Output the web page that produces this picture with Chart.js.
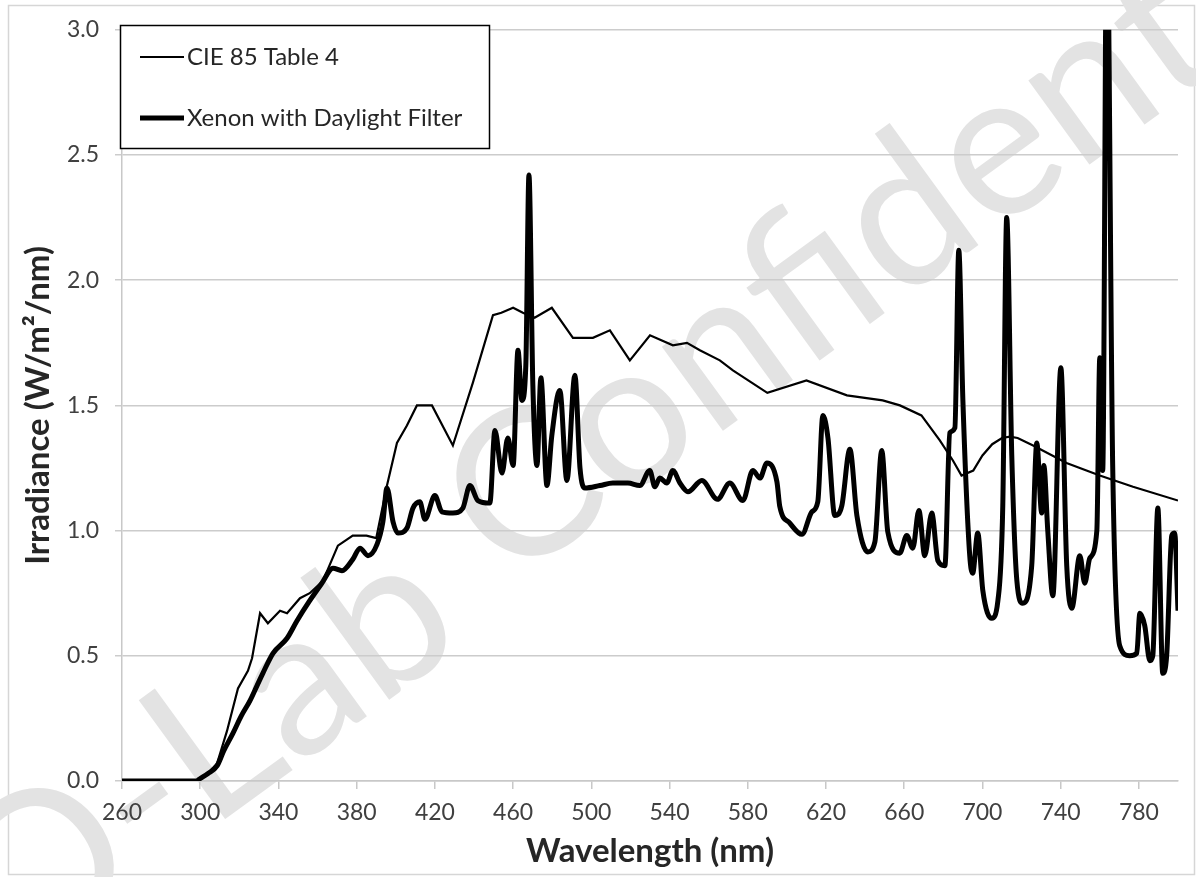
<!DOCTYPE html>
<html>
<head>
<meta charset="utf-8">
<title>Irradiance spectrum</title>
<script src="https://cdn.jsdelivr.net/npm/chart.js@4.4.1/dist/chart.umd.min.js"></script>
<style>
  html, body { margin: 0; padding: 0; background: #fff; }
  #wrap { position: relative; width: 1196px; height: 877px; }
</style>
</head>
<body>
<div id="wrap"><canvas id="myChart" width="1196" height="877"></canvas></div>
<script>
// values
var cieNm = [260, 280, 295, 300, 305, 308.6, 313.7, 319.3, 324.4, 326.5, 330.6, 334.6, 340.8, 344.4,
  351, 356, 362.8, 370.4, 378, 385, 390, 395.5, 400.6, 405.7, 410.8, 418.5, 429.2, 439.4, 449.7,
  454, 460, 465, 471, 479.8, 490.6, 500.8, 509.5, 519.7, 530, 541.7, 548.9, 555.5, 565.7, 572.4,
  590, 610, 630.7, 649, 657.8, 668.8, 678.2, 684.9, 689.3, 695.3, 700, 705, 710, 714, 718, 725.9,
  743, 760, 777, 800];
var cieVal = [0, 0, 0, 0.005, 0.04, 0.07, 0.2, 0.37, 0.44, 0.49, 0.67, 0.63, 0.68, 0.67,
  0.73, 0.75, 0.80, 0.94, 0.98, 0.98, 0.97, 1.18, 1.35, 1.42, 1.50, 1.50, 1.34, 1.59, 1.86,
  1.87, 1.89, 1.87, 1.85, 1.89, 1.77, 1.77, 1.80, 1.68, 1.78, 1.74, 1.75, 1.72, 1.68, 1.64,
  1.55, 1.60, 1.54, 1.52, 1.50, 1.46, 1.36, 1.28, 1.22, 1.24, 1.30, 1.345, 1.37, 1.375, 1.37, 1.34,
  1.27, 1.22, 1.175, 1.12];

var xenonNm = [260, 298, 300, 304, 308.6, 312, 316.7, 321, 325.4, 329, 332, 337.2, 344.4, 349.5,
  356, 362.2, 367.9, 372.5, 378, 381.7, 385.8, 390.4, 393.4, 395.5, 398.6, 401.1, 405.7, 408.8,
  412.3, 414.9, 420, 423.6, 429.2, 434.3, 437.9, 442, 448.1, 450.7, 454.3, 457.3, 460, 462.5,
  464.5, 466.5, 468.1, 470.1, 472.2, 474.2, 477.3, 479.8, 483.9, 487.5, 491.6, 494.2, 496.7,
  504.4, 511, 518.7, 524.8, 529.9, 532.5, 535, 538.6, 541.7, 545.3, 549.4, 556.5, 564.5, 570.8,
  577.5, 582.6, 586.2, 589.8, 594.9, 596.4, 601.5, 607.7, 612.8, 615.8, 618.4, 621, 624.5, 628.1,
  632.2, 635.8, 641.4, 645, 648.5, 651.6, 657.7, 661.3, 664.4, 667.5, 670.5, 674.1, 677.2, 680.8,
  683.3, 685.9, 687.9, 690, 693.5, 695, 697.6, 700.2, 704.8, 707.9, 710.4, 712.4, 715, 717.6,
  720.6, 725.2, 727.8, 730.3, 731.4, 733.4, 736, 740.1, 743.1, 745.7, 749.8, 752.3, 754.9, 758.5,
  760, 761.5, 763.6, 766.6, 770.2, 775.3, 778.9, 780.5, 783, 785.6, 787.1, 789.7, 792.2, 794.2,
  796.8, 798.3, 800];
var xenonVal = [0, 0, 0.01, 0.03, 0.06, 0.12, 0.19, 0.26, 0.32, 0.38, 0.43, 0.51, 0.57, 0.64,
  0.72, 0.79, 0.85, 0.84, 0.885, 0.93, 0.90, 0.945, 1.035, 1.17, 1.035, 0.99, 1.01, 1.09,
  1.115, 1.045, 1.14, 1.075, 1.07, 1.09, 1.18, 1.12, 1.11, 1.40, 1.23, 1.37, 1.26, 1.72,
  1.52, 1.66, 2.42, 1.58, 1.26, 1.61, 1.18, 1.38, 1.56, 1.20, 1.62, 1.25, 1.17,
  1.18, 1.19, 1.19, 1.18, 1.24, 1.175, 1.21, 1.19, 1.24, 1.19, 1.155, 1.20, 1.125, 1.19,
  1.12, 1.24, 1.21, 1.27, 1.195, 1.095, 1.03, 0.985, 1.075, 1.115, 1.46, 1.37, 1.06, 1.10,
  1.325, 1.06, 0.915, 0.955, 1.32, 0.995, 0.91, 0.98, 0.93, 1.08, 0.90, 1.07, 0.88, 0.86,
  1.39, 1.41, 2.12, 1.52, 0.90, 0.83, 0.99, 0.76, 0.65, 0.72, 1.10, 2.25, 1.30, 0.80,
  0.71, 0.86, 1.35, 1.07, 1.26, 1.00, 0.74, 1.65, 0.86, 0.69, 0.90, 0.79, 0.89, 1.00,
  1.69, 1.24, 3.5, 1.26, 0.54, 0.50, 0.51, 0.67, 0.62, 0.48, 0.50, 1.09, 0.43, 0.50,
  0.98, 0.99, 0.68];

var xTicks = [260, 300, 340, 380, 420, 460, 500, 540, 580, 620, 660, 700, 740, 780];
var seriesNames = ["CIE 85 Table 4", "Xenon with Daylight Filter"];
var xTitle = "Wavelength (nm)";
var yTitle = "Irradiance (W/m\u00B2/nm)";
var watermarkWords = ["Q-Lab", "Confidential"];

function pairs(xs, ys) {
  return xs.map(function (x, i) { return { x: x, y: ys[i] }; });
}

var tickFont = { family: "Lato", size: 23 };
var titleFont = { family: "Lato", size: 33, weight: "bold" };

// watermark, frame and the boxed legend
var decorations = {
  id: "decorations",
  beforeDraw: function (chart) {
    var ctx = chart.ctx;
    var em = 205;
    var ang = -36 * Math.PI / 180;
    ctx.save();
    ctx.fillStyle = "#ffffff";
    ctx.fillRect(0, 0, chart.width, chart.height);
    ctx.strokeStyle = "#d6d6d6";
    ctx.lineWidth = 1.5;
    ctx.strokeRect(8.5, 5.5, 1186, 869);

    ctx.font = em + "px Lato";
    ctx.fillStyle = "#e3e3e3";
    ctx.textBaseline = "alphabetic";
    ctx.textAlign = "left";
    // first word: the "L" starts near the lower left
    ctx.save();
    ctx.translate(210, 830);
    ctx.rotate(ang);
    ctx.fillText(watermarkWords[0], -ctx.measureText("Q-").width, 0);
    ctx.restore();
    // second word: the "C" is centred in the middle of the plot
    ctx.save();
    ctx.translate(520, 487);
    ctx.rotate(ang);
    ctx.fillText(watermarkWords[1], -ctx.measureText("C").width / 2, 0.36 * em);
    ctx.restore();
    ctx.restore();
  },
  afterDraw: function (chart) {
    var ctx = chart.ctx;
    ctx.save();
    ctx.fillStyle = "#ffffff";
    ctx.fillRect(121, 26, 368, 122);
    ctx.strokeStyle = "#000000";
    ctx.lineWidth = 1.5;
    ctx.strokeRect(120.5, 25.5, 369, 123);
    var rows = [57, 118];
    ctx.font = "24px Lato";
    ctx.textBaseline = "middle";
    ctx.textAlign = "left";
    chart.data.datasets.forEach(function (ds, i) {
      ctx.strokeStyle = "#000000";
      ctx.lineWidth = ds.borderWidth;
      ctx.lineCap = "butt";
      ctx.beginPath();
      ctx.moveTo(140, rows[i]);
      ctx.lineTo(184, rows[i]);
      ctx.stroke();
      ctx.fillStyle = "#262626";
      ctx.fillText(ds.label, 187, rows[i]);
    });
    ctx.restore();
  }
};

var ctx = document.getElementById("myChart");
var chart = new Chart(ctx, {
  type: "line",
  data: {
    datasets: [
      {
        label: seriesNames[0],
        data: pairs(cieNm, cieVal),
        borderColor: "#000000",
        borderWidth: 2.2,
        pointRadius: 0,
        tension: 0,
        fill: false
      },
      {
        label: seriesNames[1],
        data: pairs(xenonNm, xenonVal),
        borderColor: "#000000",
        borderWidth: 5,
        pointRadius: 0,
        cubicInterpolationMode: "monotone",
        borderJoinStyle: "round",
        fill: false
      }
    ]
  },
  options: {
    responsive: false,
    animation: false,
    layout: { padding: { left: 0, top: 25, right: 18, bottom: 0 } },
    plugins: {
      legend: { display: false },
      tooltip: { enabled: false }
    },
    scales: {
      x: {
        type: "linear",
        min: 260,
        max: 800,
        afterBuildTicks: function (scale) {
          scale.ticks = xTicks.map(function (v) { return { value: v }; });
        },
        afterFit: function (scale) { scale.height = 96; },
        ticks: { font: tickFont, color: "#404040", padding: 10, maxRotation: 0, autoSkip: false },
        grid: { drawOnChartArea: false, drawTicks: true, tickLength: 8, color: "#c8c8c8", lineWidth: 1.5 },
        border: { color: "#c8c8c8", width: 1.5 },
        title: {
          display: true,
          text: xTitle,
          color: "#262626",
          font: titleFont,
          padding: { top: 0, bottom: 6 }
        }
      },
      y: {
        min: 0,
        max: 3,
        afterFit: function (scale) { scale.width = 122; },
        ticks: {
          stepSize: 0.5,
          font: tickFont,
          color: "#404040",
          padding: 16,
          callback: function (v) { return v.toFixed(1); }
        },
        grid: { color: "#cccccc", lineWidth: 1.5, tickLength: 7 },
        border: { color: "#c8c8c8", width: 1.5 },
        title: {
          display: true,
          text: yTitle,
          color: "#262626",
          font: titleFont,
          padding: { top: 19, bottom: 0 }
        }
      }
    }
  },
  plugins: [decorations]
});
</script>
</body>
</html>
